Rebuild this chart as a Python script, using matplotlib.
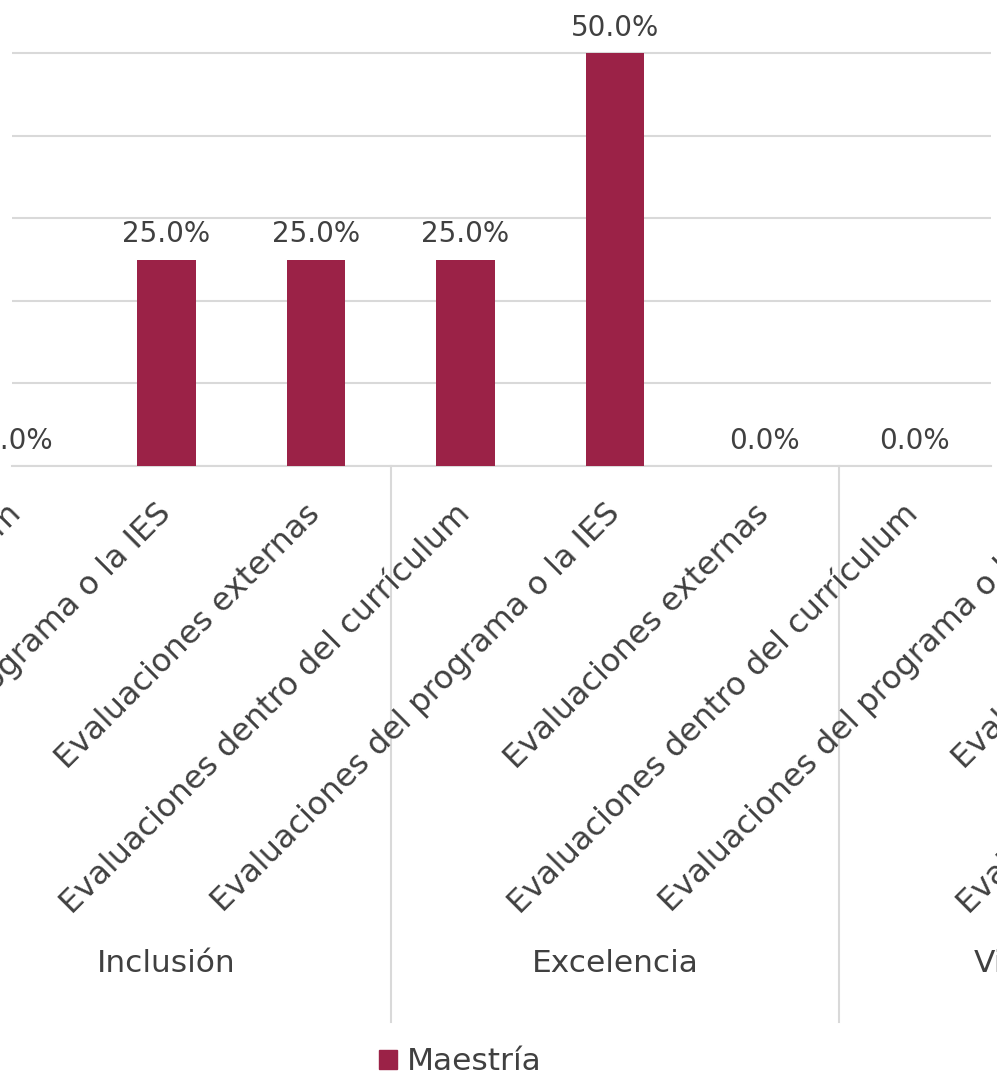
import matplotlib.pyplot as plt
import numpy as np

# datos (porcentaje de respuestas, Maestría)
grupos = ["Inclusión", "Excelencia", "Vinculación"]
indicadores = ["Evaluaciones dentro del currículum",
               "Evaluaciones del programa o la IES",
               "Evaluaciones externas"]
etiquetas = indicadores * 3 + [indicadores[0]]
maestria = [0.0, 0.25, 0.25, 0.25, 0.50, 0.0, 0.0]

color_barra = "#9B2247"
color_texto = "#404040"
color_linea = "#D9D9D9"

plt.rcParams['font.family'] = ['DejaVu Sans']

fig = plt.figure(figsize=(9.97, 10.89), dpi=100)
W, H = 997, 1089
# area de trazo en pixeles: x 12..991, y (desde arriba) 0..466
ax = fig.add_axes([12 / W, (H - 466) / H, (991 - 12) / W, 466 / H])

x = np.arange(len(maestria))
ax.bar(x, maestria, width=0.39, color=color_barra, zorder=3)

for xi, v in zip(x, maestria):
    ax.annotate(f"{v * 100:.1f}%", (xi, v), xytext=(0, 8), textcoords="offset points",
                ha="center", va="bottom", fontsize=20, color=color_texto)

ax.set_yticks(np.arange(0, 0.51, 0.1))
ax.set_yticklabels([])
ax.yaxis.grid(True, color=color_linea, linewidth=1.5, zorder=0)
ax.tick_params(axis="both", length=0)
ax.set_xticks([])

for s in ["top", "left", "right"]:
    ax.spines[s].set_visible(False)
ax.spines["bottom"].set_color(color_linea)
ax.spines["bottom"].set_linewidth(1.5)

# la grafica original esta recortada: solo se ve parte de las categorias
paso = 149.5
ax.set_xlim(-5 / paso, (991 - 17) / paso)
ax.set_ylim(0, 0.5 + 53 / 826)

trans = ax.get_xaxis_transform()

# etiquetas de categoria (a 45 grados), tambien las que quedan fuera del recorte
for i, et in enumerate(etiquetas):
    ax.annotate(et, (i, 0), xycoords=trans, xytext=(0, -31), textcoords="offset points",
                rotation=45, ha="right", va="center", rotation_mode="anchor",
                fontsize=23, color=color_texto, annotation_clip=False)

# separadores de grupo y nombres de grupo
y_fin = -(1022 - 466) / 466
for sep in [-0.5, 2.5, 5.5, 8.5]:
    ax.plot([sep, sep], [0, y_fin], transform=trans, color=color_linea,
            linewidth=1.5, clip_on=False)
for i, g in enumerate(grupos):
    ax.text(1 + 3 * i, -(963 - 466) / 466, g, transform=trans, ha="center", va="center",
            fontsize=22.5, color=color_texto, clip_on=False)

h = plt.Rectangle((0, 0), 1, 1, color=color_barra)
fig.legend([h], ["Maestría"], loc="center", bbox_to_anchor=(460 / W, 1 - 1062 / H),
           frameon=False, fontsize=22.5, labelcolor=color_texto,
           handlelength=0.6, handleheight=0.6, handletextpad=0.3)

fig.savefig("out.png", dpi=100)
